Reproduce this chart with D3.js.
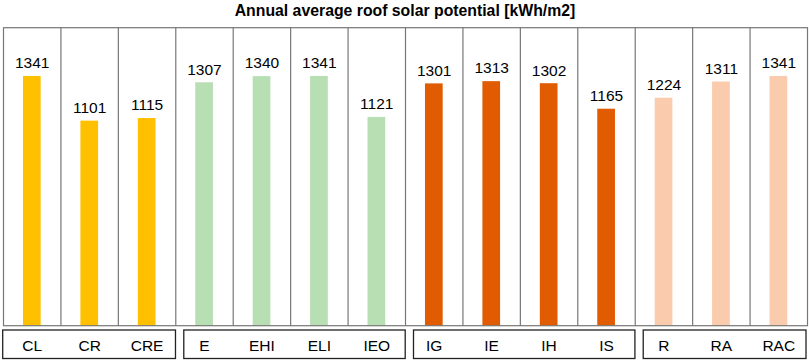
<!DOCTYPE html>
<html><head><meta charset="utf-8">
<script src="https://cdn.jsdelivr.net/npm/d3@7"></script>
<style>body{margin:0;background:#fff}svg{display:block}text{font-family:"Liberation Sans",Arial,sans-serif}</style>
</head><body><svg id="c" width="809" height="360"></svg>
<script>
const categories = ["CL","CR","CRE","E","EHI","ELI","IEO","IG","IE","IH","IS","R","RA","RAC"];
const values = [1341,1101,1115,1307,1340,1341,1121,1301,1313,1302,1165,1224,1311,1341];
const groups = ["C","C","C","E","E","E","E","I","I","I","I","R","R","R"];
const groupNames = ["C","E","I","R"];
const groupColors = ["#FFC000","#B8DFB4","#E15B00","#FACBAC"];
const title = "Annual average roof solar potential [kWh/m2]";

(function(){
const svg = d3.select("#c");
const pL = 3.5, pR = 807.5, pT = 27.7, pB = 325.7;
const x = d3.scaleBand().domain(categories).range([pL, pR]).padding(0);
const y = d3.scaleLinear().domain([0, 1600]).range([pB, pT]);
const color = d3.scaleOrdinal().domain(groupNames).range(groupColors);
const bw = x.bandwidth();
const barW = 17.7;

svg.append("text").attr("x", 405).attr("y", 15.5).attr("text-anchor","middle")
  .attr("font-weight","bold").attr("font-size","15.8px").attr("fill","#000").text(title);

svg.selectAll("rect.bar").data(categories).enter().append("rect")
  .attr("x", d => x(d) + bw/2 - barW/2 - 0.4)
  .attr("width", barW)
  .attr("y", (d,i) => y(values[i]))
  .attr("height", (d,i) => y(0) - y(values[i]))
  .attr("fill", (d,i) => color(groups[i]));

svg.append("rect").attr("x", pL).attr("y", pT).attr("width", pR-pL).attr("height", pB-pT)
  .attr("fill","none").attr("stroke","#777").attr("stroke-width",1.2);
svg.selectAll("line.div").data(categories.slice(1)).enter().append("line")
  .attr("x1", d => x(d)).attr("x2", d => x(d)).attr("y1", pT).attr("y2", pB)
  .attr("stroke","#777").attr("stroke-width",1.2);

svg.selectAll("text.val").data(categories).enter().append("text")
  .attr("x", d => x(d) + bw/2).attr("y", (d,i) => y(values[i]) - 7.7)
  .attr("text-anchor","middle").attr("font-size","15.5px").attr("fill","#000")
  .text((d,i) => values[i]);

groupNames.forEach((g, gi) => {
  const cats = categories.filter((c,i) => groups[i] === g);
  const x0 = x(cats[0]) + (gi === 0 ? -0.8 : 8);
  const x1 = x(cats[cats.length-1]) + bw - (gi === 3 ? 1.5 : 0.3);
  svg.append("rect").attr("x", x0).attr("y", 330).attr("width", x1 - x0).attr("height", 28.5)
    .attr("fill","none").attr("stroke","#222").attr("stroke-width",1.3);
});
svg.selectAll("text.cat").data(categories).enter().append("text")
  .attr("x", d => x(d) + bw/2).attr("y", 350.5)
  .attr("text-anchor","middle").attr("font-size","15.5px").attr("fill","#000")
  .text(d => d);
})();
</script></body></html>
